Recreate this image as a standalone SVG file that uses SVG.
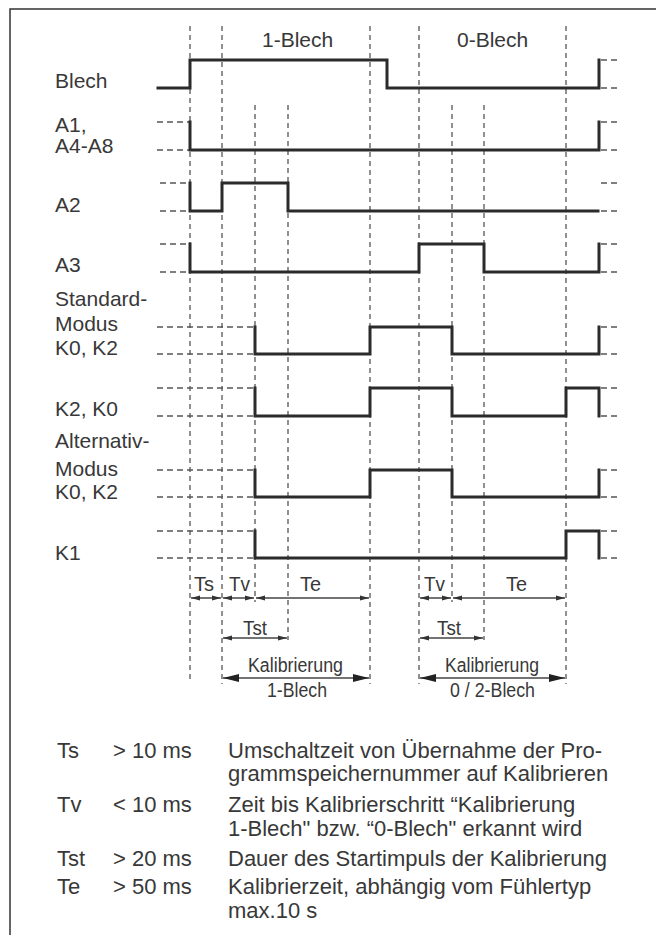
<svg xmlns="http://www.w3.org/2000/svg" width="656" height="935" viewBox="0 0 656 935">
<style>
  .frame{fill:none;stroke:#333;stroke-width:1.5}
  .vd{stroke:#555;stroke-width:1.3;stroke-dasharray:5 4;fill:none}
  .hd{stroke:#555;stroke-width:1.3;stroke-dasharray:6 4;fill:none}
  .sig{stroke:#2b2b2b;stroke-width:3;fill:none;stroke-linejoin:miter;stroke-linecap:square}
  .lbl{font-family:"Liberation Sans",Arial,sans-serif;font-size:21px;fill:#383838}
  .dim{font-family:"Liberation Sans",Arial,sans-serif;font-size:20px;fill:#383838}
  .txt{font-family:"Liberation Sans",Arial,sans-serif;font-size:22px;fill:#383838}
  .arr{stroke:#444;stroke-width:1.5;fill:none}
</style>
<defs>
  <marker id="sa" viewBox="0 0 9 6" markerWidth="9" markerHeight="6" refX="9" refY="3" orient="auto-start-reverse" markerUnits="userSpaceOnUse">
    <path d="M0,0.6 L9,3 L0,5.4 z" fill="#333"/>
  </marker>
  <marker id="la" viewBox="0 0 16 8" markerWidth="16" markerHeight="8" refX="16" refY="4" orient="auto-start-reverse" markerUnits="userSpaceOnUse">
    <path d="M0,0 L16,4 L0,8 z" fill="#222"/>
  </marker>
</defs>

<rect class="frame" x="10" y="9" width="700" height="1000"/>

<g id="grid">
  <line class="vd" x1="190" y1="26" x2="190" y2="683"/>
  <line class="vd" x1="222" y1="26" x2="222" y2="684"/>
  <line class="vd" x1="255" y1="105" x2="255" y2="602"/>
  <line class="vd" x1="288" y1="105" x2="288" y2="640"/>
  <line class="vd" x1="370" y1="26" x2="370" y2="684"/>
  <line class="vd" x1="419" y1="26" x2="419" y2="684"/>
  <line class="vd" x1="452" y1="105" x2="452" y2="602"/>
  <line class="vd" x1="484" y1="105" x2="484" y2="640"/>
  <line class="vd" x1="566" y1="26" x2="566" y2="684"/>
</g>

<g id="headers">
  <text class="lbl" x="262" y="47">1-Blech</text>
  <text class="lbl" x="457" y="47">0-Blech</text>
</g>

<g id="row-blech">
  <text class="lbl" x="55" y="88">Blech</text>
  <path class="sig" d="M158,88 H190 V60 H387 V88 H599 V60"/>
  <path class="hd" d="M601,60 H620 M601,88 H620"/>
</g>

<g id="row-a1">
  <text class="lbl" x="55" y="132">A1,</text>
  <text class="lbl" x="55" y="153">A4-A8</text>
  <path class="hd" d="M157,122 H189 M157,150 H189"/>
  <path class="sig" d="M190,122 V150 H599 V122"/>
  <path class="hd" d="M601,122 H620 M601,150 H620"/>
</g>

<g id="row-a2">
  <text class="lbl" x="55" y="212">A2</text>
  <path class="hd" d="M160,183 H189 M160,211 H189"/>
  <path class="sig" d="M190,183 V211 H222 V183 H288 V211 H598"/>
  <path class="hd" d="M601,183 H620 M601,211 H620"/>
</g>

<g id="row-a3">
  <text class="lbl" x="55" y="272">A3</text>
  <path class="hd" d="M160,244 H189 M160,272 H189"/>
  <path class="sig" d="M190,244 V272 H419 V244 H484 V272 H599 V244"/>
  <path class="hd" d="M601,244 H620 M601,272 H620"/>
</g>

<g id="row-standard">
  <text class="lbl" x="55" y="306">Standard-</text>
  <text class="lbl" x="55" y="331">Modus</text>
  <text class="lbl" x="55" y="355">K0, K2</text>
  <path class="hd" d="M157,327 H254 M157,354 H254"/>
  <path class="sig" d="M255,327 V354 H370 V327 H452 V354 H599 V327"/>
  <path class="hd" d="M601,327 H620 M601,354 H620"/>
</g>

<g id="row-k2k0">
  <text class="lbl" x="55" y="416">K2, K0</text>
  <path class="hd" d="M157,388 H254 M157,416 H254"/>
  <path class="sig" d="M255,388 V416 H370 V388 H452 V416 H566 V388 H599 V416"/>
  <path class="hd" d="M601,388 H620 M601,416 H620"/>
</g>

<g id="row-alternativ">
  <text class="lbl" x="55" y="448">Alternativ-</text>
  <text class="lbl" x="55" y="476">Modus</text>
  <text class="lbl" x="55" y="499">K0, K2</text>
  <path class="hd" d="M157,470 H254 M157,497 H254"/>
  <path class="sig" d="M255,470 V497 H370 V470 H452 V497 H599 V470"/>
  <path class="hd" d="M601,470 H620 M601,497 H620"/>
</g>

<g id="row-k1">
  <text class="lbl" x="55" y="560">K1</text>
  <path class="hd" d="M157,531 H254 M157,558 H254"/>
  <path class="sig" d="M255,531 V558 H566 V531 H599 V558"/>
  <path class="hd" d="M601,531 H620 M601,558 H620"/>
</g>

<g id="connectors">
  <line class="arr" x1="191" y1="598" x2="221" y2="598" marker-start="url(#sa)" marker-end="url(#sa)"/>
  <line class="arr" x1="223" y1="598" x2="254" y2="598" marker-start="url(#sa)" marker-end="url(#sa)"/>
  <line class="arr" x1="256" y1="598" x2="369" y2="598" marker-start="url(#sa)" marker-end="url(#sa)"/>
  <line class="arr" x1="420" y1="598" x2="451" y2="598" marker-start="url(#sa)" marker-end="url(#sa)"/>
  <line class="arr" x1="453" y1="598" x2="565" y2="598" marker-start="url(#sa)" marker-end="url(#sa)"/>
  <line class="arr" x1="223" y1="638" x2="287" y2="638" marker-start="url(#sa)" marker-end="url(#sa)"/>
  <line class="arr" x1="420" y1="638" x2="483" y2="638" marker-start="url(#sa)" marker-end="url(#sa)"/>
  <line class="arr" x1="223" y1="678" x2="369" y2="678" marker-start="url(#la)" marker-end="url(#la)"/>
  <line class="arr" x1="420" y1="678" x2="565" y2="678" marker-start="url(#la)" marker-end="url(#la)"/>
</g>

<g id="dim-labels">
  <text class="dim" x="194" y="591" textLength="20" lengthAdjust="spacingAndGlyphs">Ts</text>
  <text class="dim" x="229" y="591" textLength="21" lengthAdjust="spacingAndGlyphs">Tv</text>
  <text class="dim" x="300" y="591" textLength="21" lengthAdjust="spacingAndGlyphs">Te</text>
  <text class="dim" x="424" y="591" textLength="21" lengthAdjust="spacingAndGlyphs">Tv</text>
  <text class="dim" x="506" y="591" textLength="21" lengthAdjust="spacingAndGlyphs">Te</text>
  <text class="dim" x="243" y="635" textLength="24" lengthAdjust="spacingAndGlyphs">Tst</text>
  <text class="dim" x="437" y="635" textLength="24" lengthAdjust="spacingAndGlyphs">Tst</text>
  <text class="dim" x="248" y="672" textLength="95" lengthAdjust="spacingAndGlyphs">Kalibrierung</text>
  <text class="dim" x="267" y="697" textLength="60" lengthAdjust="spacingAndGlyphs">1-Blech</text>
  <text class="dim" x="445" y="672" textLength="94" lengthAdjust="spacingAndGlyphs">Kalibrierung</text>
  <text class="dim" x="450" y="697" textLength="85" lengthAdjust="spacingAndGlyphs">0 / 2-Blech</text>
</g>

<g id="legend">
  <text class="txt" x="57" y="758">Ts</text>
  <text class="txt" x="113" y="758">&gt; 10 ms</text>
  <text class="txt" x="228" y="758">Umschaltzeit von Übernahme der Pro-</text>
  <text class="txt" x="228" y="781">grammspeichernummer auf Kalibrieren</text>
  <text class="txt" x="57" y="812">Tv</text>
  <text class="txt" x="113" y="812">&lt; 10 ms</text>
  <text class="txt" x="228" y="812">Zeit bis Kalibrierschritt “Kalibrierung</text>
  <text class="txt" x="228" y="836">1-Blech" bzw. “0-Blech" erkannt wird</text>
  <text class="txt" x="57" y="866">Tst</text>
  <text class="txt" x="113" y="866">&gt; 20 ms</text>
  <text class="txt" x="228" y="866">Dauer des Startimpuls der Kalibrierung</text>
  <text class="txt" x="57" y="894">Te</text>
  <text class="txt" x="113" y="894">&gt; 50 ms</text>
  <text class="txt" x="228" y="894">Kalibrierzeit, abhängig vom Fühlertyp</text>
  <text class="txt" x="228" y="918">max.10 s</text>
</g>
</svg>
